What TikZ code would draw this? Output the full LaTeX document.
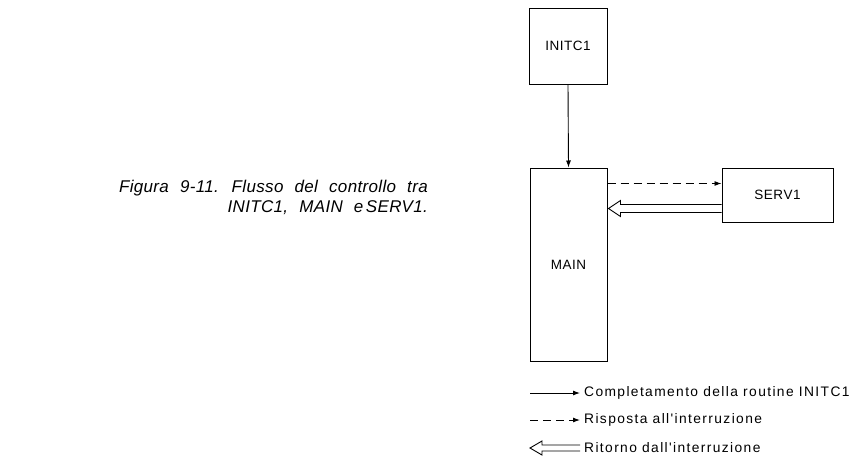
\documentclass[tikz,border=0pt]{standalone}
\usepackage{fontspec}
\setmainfont{Liberation Sans}
\newfontfamily\boxfont[LetterSpace=4]{Liberation Sans}
\newfontfamily\legfont[LetterSpace=10]{Liberation Sans}
\newfontfamily\capfont[LetterSpace=2,WordSpace=2.2]{Liberation Sans}
\usetikzlibrary{arrows.meta,calc}
\begin{document}
\begin{tikzpicture}[x=1pt,y=-1pt,
  box/.style={draw,line width=1pt,inner sep=0pt,font=\boxfont\fontsize{13.5}{15}\selectfont},
  conn/.style={line width=0.9pt,-{Latex[length=7pt,width=5pt]}},
  dconn/.style={conn,dash pattern=on 8pt off 5pt},
  hollow/.style={draw,line width=0.9pt,fill=white,line join=miter},
  legtext/.style={anchor=west,inner sep=0pt,font=\legfont\fontsize{13.8}{15}\selectfont},
  capt/.style={align=right,inner sep=0pt,font=\capfont\itshape\fontsize{17}{19.5}\selectfont}]
\useasboundingbox (0,0) rectangle (852,472);
\node[box,minimum width=78pt,minimum height=76pt] (initc) at (568,46) {INITC1};
\node[box,minimum width=77pt,minimum height=193pt] (main) at (568.5,264.5) {MAIN};
\node[box,minimum width=111pt,minimum height=54pt] (serv) at (777.5,195) {SERV1};
\draw[conn] (initc.south) -- (main.north);
\draw[dconn] ($(main.north east)+(0,16)$) -- ($(serv.north west)+(0,16)$);
\draw[hollow] ($(serv.north west)+(0,37)$) -- ($(main.north east)+(13,37)$) -- ($(main.north east)+(13,33)$)
  -- ($(main.north east)+(1,41)$) -- ($(main.north east)+(13,49)$) -- ($(main.north east)+(13,45)$) -- ($(serv.north west)+(0,45)$);
% legend
\coordinate (l1a) at (530,393); \coordinate (l1b) at (580,393);
\coordinate (l2a) at (530,420); \coordinate (l2b) at (580,420);
\coordinate (l3a) at (530,448); \coordinate (l3b) at (580,448);
\draw[conn] (l1a) -- (l1b);
\draw[dconn] (l2a) -- (l2b);
\draw[hollow] (l3b) ++(0,-3) -- ++(-38,0) -- ++(0,-4) -- ++(-12,7) -- ++(12,7) -- ++(0,-4) -- ++(38,0);
\node[legtext] (t1) at (584,393) {Completamento della routine INITC1};
\node[legtext] (t2) at (584,420) {Risposta all'interruzione};
\node[legtext] (t3) at (584,448) {Ritorno dall'interruzione};
\node[capt,anchor=north east] (cap) at (428,180) {Figura 9-11. Flusso del controllo tra\\INITC1, MAIN e\hspace{2.5pt}SERV1.};
\end{tikzpicture}
\end{document}
